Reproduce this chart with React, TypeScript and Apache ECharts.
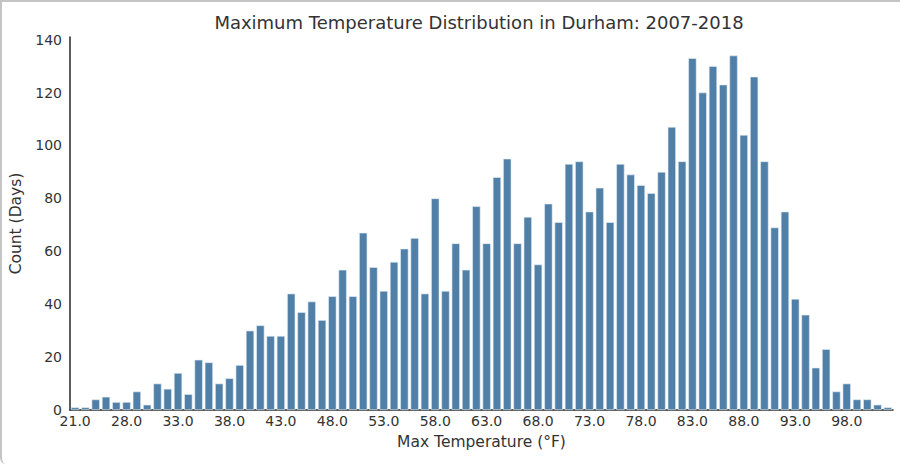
import { useEffect, useRef } from "react"
import * as echarts from "echarts"

// temperature bins (°F) as they appear on the count plot
const temps = [
  "21.0", "22.0", "24.0", "25.0", "27.0",
  "28.0", "29.0", "30.0", "31.0", "32.0", "33.0", "34.0", "35.0", "36.0", "37.0",
  "38.0", "39.0", "40.0", "41.0", "42.0", "43.0", "44.0", "45.0", "46.0", "47.0",
  "48.0", "49.0", "50.0", "51.0", "52.0", "53.0", "54.0", "55.0", "56.0", "57.0",
  "58.0", "59.0", "60.0", "61.0", "62.0", "63.0", "64.0", "65.0", "66.0", "67.0",
  "68.0", "69.0", "70.0", "71.0", "72.0", "73.0", "74.0", "75.0", "76.0", "77.0",
  "78.0", "79.0", "80.0", "81.0", "82.0", "83.0", "84.0", "85.0", "86.0", "87.0",
  "88.0", "89.0", "90.0", "91.0", "92.0", "93.0", "94.0", "95.0", "96.0", "97.0",
  "98.0", "99.0", "100.0", "101.0", "102.0",
]

// number of days per bin
const counts = [
  1, 1, 4, 5, 3,
  3, 7, 2, 10, 8, 14, 6, 19, 18, 10,
  12, 17, 30, 32, 28, 28, 44, 37, 41, 34,
  43, 53, 43, 67, 54, 45, 56, 61, 65, 44,
  80, 45, 63, 53, 77, 63, 88, 95, 63, 73,
  55, 78, 71, 93, 94, 75, 84, 71, 93, 89,
  85, 82, 90, 107, 94, 133, 120, 130, 123, 134,
  104, 126, 94, 69, 75, 42, 36, 16, 23, 7,
  10, 4, 4, 2, 1,
]

const FONT = "DejaVu Sans"
const TEXT = "#333333"
const AXIS = "#262626"

export default function App() {
  const chartRef = useRef<HTMLDivElement>(null)

  useEffect(() => {
    if (!chartRef.current) return
    document.body.style.margin = "0"

    const chart = echarts.init(chartRef.current, null, { renderer: "svg" })

    chart.setOption({
      animation: false,
      backgroundColor: "#ffffff",
      textStyle: { fontFamily: FONT },
      title: {
        text: "Maximum Temperature Distribution in Durham: 2007-2018",
        left: 474,
        top: 8,
        textAlign: "center",
        textStyle: { fontFamily: FONT, fontSize: 18, fontWeight: "normal", color: TEXT },
      },
      grid: { left: 70, right: 7, top: 37, bottom: 54, containLabel: false },
      xAxis: {
        type: "category",
        data: temps,
        name: "Max Temperature (°F)",
        nameLocation: "middle",
        nameGap: 24,
        nameTextStyle: { fontFamily: FONT, fontSize: 15.5, color: TEXT },
        axisLine: { lineStyle: { color: AXIS, width: 1.5 } },
        axisTick: { show: false },
        axisLabel: {
          interval: 4,
          margin: 4,
          fontFamily: FONT,
          fontSize: 14,
          color: TEXT,
        },
      },
      yAxis: {
        type: "value",
        min: 0,
        max: 141,
        interval: 20,
        name: "Count (Days)",
        nameLocation: "middle",
        nameGap: 44,
        nameTextStyle: { fontFamily: FONT, fontSize: 15.5, color: TEXT },
        axisLine: { show: true, lineStyle: { color: AXIS, width: 1.5 } },
        axisTick: { show: false },
        splitLine: { show: false },
        axisLabel: {
          margin: 8,
          showMaxLabel: false,
          fontFamily: FONT,
          fontSize: 14,
          color: TEXT,
        },
      },
      series: [
        {
          type: "bar",
          data: counts,
          barCategoryGap: "20%",
          itemStyle: { color: "#5080a8", borderColor: "#e8eef4", borderWidth: 0.6 },
        },
      ],
    })

    return () => {
      chart.dispose()
    }
  }, [])

  return (
    <div style={{ position: "relative", width: 900, height: 464 }}>
      <div ref={chartRef} style={{ width: 900, height: 464 }} />
      <div
        style={{
          position: "absolute",
          left: 0,
          top: 0,
          width: 900,
          height: 464,
          boxSizing: "border-box",
          borderTop: "2px solid #c4c4c4",
          borderLeft: "2px solid #c4c4c4",
          borderBottomLeftRadius: 6,
          pointerEvents: "none",
        }}
      />
    </div>
  )
}
